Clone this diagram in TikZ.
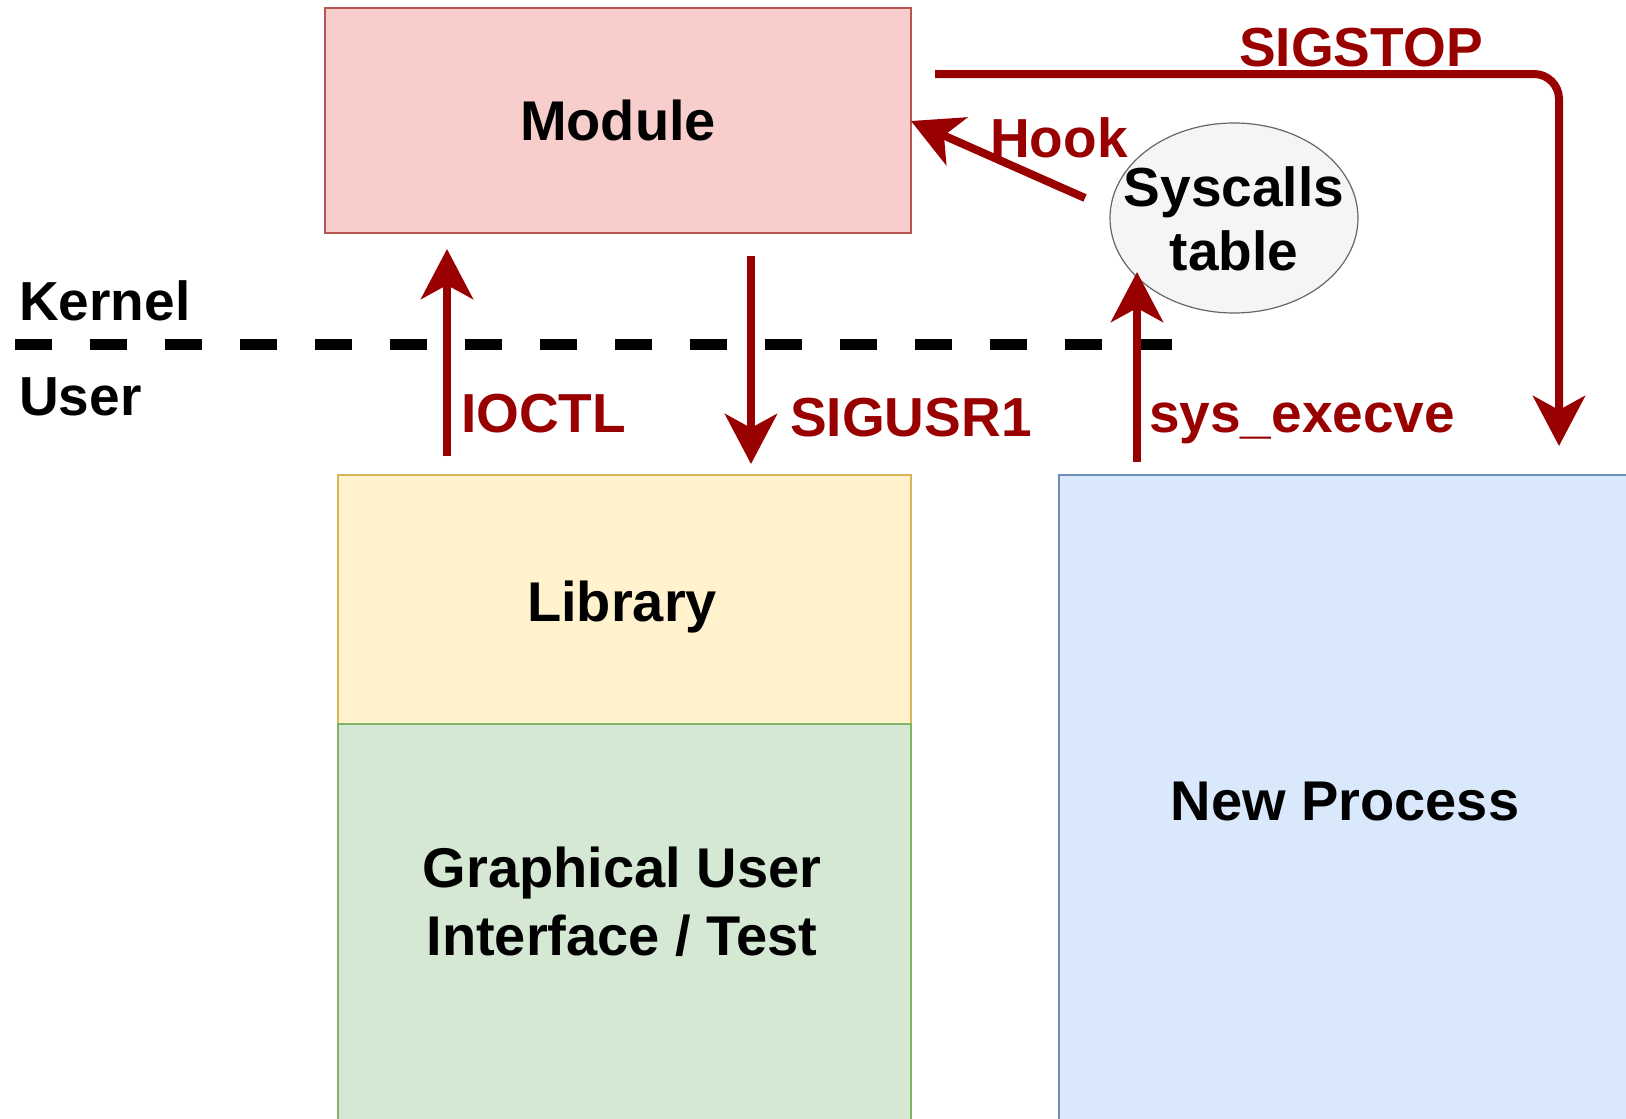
\documentclass[tikz,border=0pt]{standalone}
\usepackage{fontspec}
\setmainfont{Liberation Sans}
\usetikzlibrary{arrows.meta,shapes.geometric}
\definecolor{arrowred}{HTML}{990000}
\definecolor{modfill}{HTML}{F8CECC}\definecolor{moddraw}{HTML}{B85450}
\definecolor{libfill}{HTML}{FFF2CC}\definecolor{libdraw}{HTML}{D6B656}
\definecolor{guifill}{HTML}{D5E8D4}\definecolor{guidraw}{HTML}{82B366}
\definecolor{npfill}{HTML}{DAE8FC}\definecolor{npdraw}{HTML}{6C8EBF}
\definecolor{elfill}{HTML}{F5F5F5}\definecolor{eldraw}{HTML}{666666}
\tikzset{
  box/.style={draw, line width=1.5pt, rectangle, inner sep=0pt, font=\fontsize{56}{68}\selectfont\bfseries, align=center},
  lbl/.style={font=\fontsize{55}{67}\selectfont\bfseries, text=arrowred, inner sep=0pt, anchor=base west},
  side/.style={font=\fontsize{55}{67}\selectfont\bfseries, inner sep=0pt, anchor=base west},
  conn/.style={draw=arrowred, line width=8pt, -{Stealth[length=50pt, width=52pt, inset=14pt]}},
}
\begin{document}
\begin{tikzpicture}[x=1pt, y=-1pt]
\useasboundingbox (0,0) rectangle (1626,1119);
\begin{scope}
\clip (0,0) rectangle (1626,1119);
% boxes
\node[box, fill=modfill, draw=moddraw, minimum width=586pt, minimum height=225pt] (module) at (618,120.5) {Module};
\node[box, fill=libfill, draw=libdraw, minimum width=573pt, minimum height=249pt] (library) at (624.5,599.5) {};
\node[box, fill=guifill, draw=guidraw, minimum width=573pt, minimum height=420pt] (gui) at (624.5,934) {};
\node[box, fill=npfill, draw=npdraw, minimum width=580pt, minimum height=660pt] (np) at (1349,805) {};
\end{scope}
\node[box, draw=none, fill=none] (libtext) at (622,607) {Library};
\node[box, draw=none, fill=none] (guitext) at (622,902) {Graphical User\\Interface / Test};
\node[box, draw=none, fill=none] (nptext) at (1345,802) {New Process};
\node[box, ellipse, fill=elfill, draw=eldraw, line width=1.2pt, minimum width=248pt, minimum height=190pt] (sys) at (1234,218) {};
\node[box, draw=none, fill=none, font=\fontsize{55}{64}\selectfont\bfseries] (systext) at (1234,219) {Syscalls\\table};
% kernel/user divider
\coordinate (dashL) at (15,344);
\coordinate (dashR) at (1172,344);
\draw[line width=11pt, dash pattern=on 37pt off 38pt] (dashL) -- (dashR);
\node[side] (kernel) at (19,320) {Kernel};
\node[side] (user) at (19,415) {User};
% arrows
\coordinate (ioctlS) at (447,456);
\coordinate (ioctlE) at (447,249);
\draw[conn] (ioctlS) -- (ioctlE);
\node[lbl] (ioctl) at (461,432) {IOCTL};
\coordinate (usrS) at (751,256);
\coordinate (usrE) at (751,464);
\draw[conn] (usrS) -- (usrE);
\node[lbl] (sigusr) at (790,436) {SIGUSR1};
\coordinate (exS) at (1137,462);
\coordinate (exE) at (1137,272);
\draw[conn] (exS) -- (exE);
\node[lbl] (execve) at (1149,432) {sys\_execve};
\coordinate (hookS) at (1085,198);
\coordinate (hookE) at (911,121);
\draw[conn] (hookS) -- (hookE);
\node[lbl] (hook) at (990,157) {Hook};
\coordinate (stopS) at (935,74);
\coordinate (stopC) at (1559,74);
\coordinate (stopE) at (1559,446);
\draw[conn, rounded corners=25pt] (stopS) -- (stopC) -- (stopE);
\node[lbl] (sigstop) at (1239,66) {SIGSTOP};
\end{tikzpicture}
\end{document}
